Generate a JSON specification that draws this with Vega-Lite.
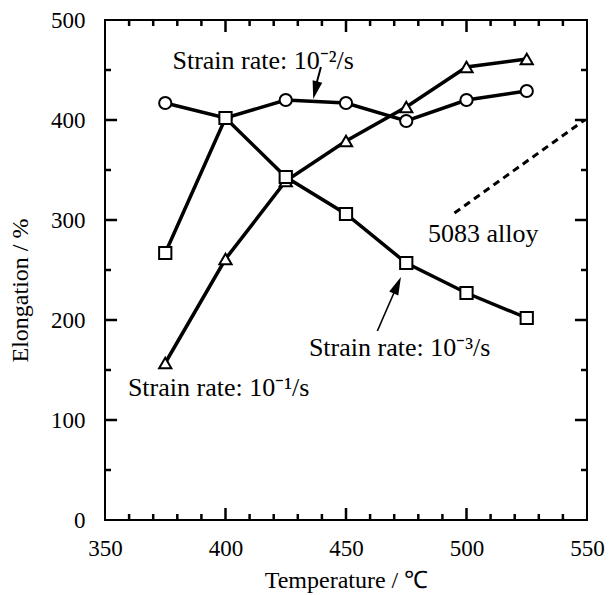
{
  "$schema": "https://vega.github.io/schema/vega-lite/v6.json",
  "width": 482,
  "height": 500,
  "autosize": "none",
  "padding": {"left": 105, "top": 20, "right": 24, "bottom": 75},
  "background": "white",
  "config": {
    "view": {"stroke": "black", "strokeWidth": 2},
    "font": "Liberation Serif",
    "axis": {
      "domain": false,
      "grid": false,
      "ticks": false,
      "labelFont": "Liberation Serif",
      "titleFont": "Liberation Serif",
      "labelColor": "black",
      "titleColor": "black",
      "titleFontWeight": "normal"
    }
  },
  "datasets": {
    "series": [
      {"rate": "1e-1", "T": 375, "E": 157},
      {"rate": "1e-1", "T": 400, "E": 261},
      {"rate": "1e-1", "T": 425, "E": 339},
      {"rate": "1e-1", "T": 450, "E": 379},
      {"rate": "1e-1", "T": 475, "E": 413},
      {"rate": "1e-1", "T": 500, "E": 453},
      {"rate": "1e-1", "T": 525, "E": 461},
      {"rate": "1e-2", "T": 375, "E": 417},
      {"rate": "1e-2", "T": 400, "E": 402},
      {"rate": "1e-2", "T": 425, "E": 420},
      {"rate": "1e-2", "T": 450, "E": 417},
      {"rate": "1e-2", "T": 475, "E": 399},
      {"rate": "1e-2", "T": 500, "E": 420},
      {"rate": "1e-2", "T": 525, "E": 429},
      {"rate": "1e-3", "T": 375, "E": 267},
      {"rate": "1e-3", "T": 400, "E": 402},
      {"rate": "1e-3", "T": 425, "E": 343},
      {"rate": "1e-3", "T": 450, "E": 306},
      {"rate": "1e-3", "T": 475, "E": 257},
      {"rate": "1e-3", "T": 500, "E": 227},
      {"rate": "1e-3", "T": 525, "E": 202}
    ],
    "notes": [
      {"label": "Strain rate: 10⁻²/s", "T": 378, "E": 451},
      {"label": "Strain rate: 10⁻³/s", "T": 434.6, "E": 164},
      {"label": "Strain rate: 10⁻¹/s", "T": 359.5, "E": 124},
      {"label": "5083 alloy", "T": 484, "E": 278}
    ],
    "alloy": [{"T": 495, "E": 307}, {"T": 549, "E": 400}],
    "arrow2": [{"T": 439.6, "E": 453}, {"T": 436.8, "E": 428}],
    "arrow3": [{"T": 463, "E": 189}, {"T": 471.5, "E": 236}],
    "head2": [{"T": 436.4, "E": 421}],
    "head3": [{"T": 472.8, "E": 243}],
    "xticks": [
      {"v": 360, "kind": "minor"}, {"v": 370, "kind": "minor"}, {"v": 380, "kind": "minor"}, {"v": 390, "kind": "minor"},
      {"v": 400, "kind": "major"},
      {"v": 410, "kind": "minor"}, {"v": 420, "kind": "minor"}, {"v": 430, "kind": "minor"}, {"v": 440, "kind": "minor"},
      {"v": 450, "kind": "major"},
      {"v": 460, "kind": "minor"}, {"v": 470, "kind": "minor"}, {"v": 480, "kind": "minor"}, {"v": 490, "kind": "minor"},
      {"v": 500, "kind": "major"},
      {"v": 510, "kind": "minor"}, {"v": 520, "kind": "minor"}, {"v": 530, "kind": "minor"}, {"v": 540, "kind": "minor"}
    ],
    "yticks": [
      {"v": 50, "kind": "minor"}, {"v": 100, "kind": "major"}, {"v": 150, "kind": "minor"}, {"v": 200, "kind": "major"},
      {"v": 250, "kind": "minor"}, {"v": 300, "kind": "major"}, {"v": 350, "kind": "minor"}, {"v": 400, "kind": "major"},
      {"v": 450, "kind": "minor"}
    ]
  },
  "layer": [
    {
      "data": {"name": "series"},
      "mark": {"type": "line", "color": "black", "strokeWidth": 3.5},
      "encoding": {
        "x": {
          "field": "T", "type": "quantitative",
          "scale": {"domain": [350, 550], "nice": false, "zero": false},
          "axis": {
            "orient": "bottom", "values": [350, 400, 450, 500, 550], "ticks": false,
            "labelPadding": 17, "labelFontSize": 23, "labelFont": "Liberation Serif", "labelFlush": false,
            "title": "Temperature / ℃", "titleFont": "Liberation Serif", "titleFontSize": 24, "titlePadding": 8
          }
        },
        "y": {
          "field": "E", "type": "quantitative",
          "scale": {"domain": [0, 500], "nice": false, "zero": true},
          "axis": {
            "orient": "left", "values": [0, 100, 200, 300, 400, 500], "ticks": false,
            "labelPadding": 20, "labelFontSize": 23, "labelFont": "Liberation Serif",
            "title": "Elongation / %", "titleFont": "Liberation Serif", "titleFontSize": 24, "titlePadding": 18, "titleY": 270
          }
        },
        "detail": {"field": "rate"}
      }
    },
    {
      "data": {"name": "series"},
      "mark": {"type": "point", "filled": true, "fill": "white", "stroke": "black", "strokeWidth": 2, "opacity": 1, "size": 150},
      "encoding": {
        "x": {"field": "T", "type": "quantitative"},
        "y": {"field": "E", "type": "quantitative"},
        "shape": {
          "field": "rate", "type": "nominal",
          "scale": {"domain": ["1e-1", "1e-2", "1e-3"], "range": ["triangle-up", "circle", "square"]},
          "legend": null
        }
      }
    },
    {
      "data": {"name": "alloy"},
      "mark": {"type": "line", "color": "black", "strokeWidth": 3, "strokeDash": [7, 5]},
      "encoding": {
        "x": {"field": "T", "type": "quantitative"},
        "y": {"field": "E", "type": "quantitative"}
      }
    },
    {
      "data": {"name": "notes"},
      "mark": {"type": "text", "align": "left", "baseline": "alphabetic", "fontSize": 26, "font": "Liberation Serif", "color": "black"},
      "encoding": {
        "x": {"field": "T", "type": "quantitative"},
        "y": {"field": "E", "type": "quantitative"},
        "text": {"field": "label"}
      }
    },
    {
      "data": {"name": "arrow2"},
      "mark": {"type": "line", "color": "black", "strokeWidth": 2},
      "encoding": {
        "x": {"field": "T", "type": "quantitative"},
        "y": {"field": "E", "type": "quantitative"}
      }
    },
    {
      "data": {"name": "arrow3"},
      "mark": {"type": "line", "color": "black", "strokeWidth": 1.6},
      "encoding": {
        "x": {"field": "T", "type": "quantitative"},
        "y": {"field": "E", "type": "quantitative"}
      }
    },
    {
      "data": {"name": "head2"},
      "mark": {"type": "point", "shape": "M0,0L-0.55,2L0.55,2Z", "angle": 193.5, "filled": true, "fill": "black", "strokeWidth": 0, "opacity": 1, "size": 324},
      "encoding": {
        "x": {"field": "T", "type": "quantitative"},
        "y": {"field": "E", "type": "quantitative"}
      }
    },
    {
      "data": {"name": "head3"},
      "mark": {"type": "point", "shape": "M0,0L-0.55,2L0.55,2Z", "angle": 23.6, "filled": true, "fill": "black", "strokeWidth": 0, "opacity": 1, "size": 324},
      "encoding": {
        "x": {"field": "T", "type": "quantitative"},
        "y": {"field": "E", "type": "quantitative"}
      }
    },
    {
      "data": {"name": "xticks"},
      "transform": [{"filter": "datum.kind === 'major'"}],
      "mark": {"type": "rule", "color": "black", "strokeWidth": 2.5},
      "encoding": {"x": {"field": "v", "type": "quantitative"}, "y": {"datum": 0}, "y2": {"datum": 12}}
    },
    {
      "data": {"name": "xticks"},
      "transform": [{"filter": "datum.kind === 'major'"}],
      "mark": {"type": "rule", "color": "black", "strokeWidth": 2.5},
      "encoding": {"x": {"field": "v", "type": "quantitative"}, "y": {"datum": 500}, "y2": {"datum": 488}}
    },
    {
      "data": {"name": "xticks"},
      "transform": [{"filter": "datum.kind === 'minor'"}],
      "mark": {"type": "rule", "color": "black", "strokeWidth": 2.5},
      "encoding": {"x": {"field": "v", "type": "quantitative"}, "y": {"datum": 0}, "y2": {"datum": 6}}
    },
    {
      "data": {"name": "xticks"},
      "transform": [{"filter": "datum.kind === 'minor'"}],
      "mark": {"type": "rule", "color": "black", "strokeWidth": 2.5},
      "encoding": {"x": {"field": "v", "type": "quantitative"}, "y": {"datum": 500}, "y2": {"datum": 494}}
    },
    {
      "data": {"name": "yticks"},
      "transform": [{"filter": "datum.kind === 'major'"}],
      "mark": {"type": "rule", "color": "black", "strokeWidth": 2.5},
      "encoding": {"y": {"field": "v", "type": "quantitative"}, "x": {"datum": 350}, "x2": {"datum": 355}}
    },
    {
      "data": {"name": "yticks"},
      "transform": [{"filter": "datum.kind === 'major'"}],
      "mark": {"type": "rule", "color": "black", "strokeWidth": 2.5},
      "encoding": {"y": {"field": "v", "type": "quantitative"}, "x": {"datum": 550}, "x2": {"datum": 545}}
    },
    {
      "data": {"name": "yticks"},
      "transform": [{"filter": "datum.kind === 'minor'"}],
      "mark": {"type": "rule", "color": "black", "strokeWidth": 2.5},
      "encoding": {"y": {"field": "v", "type": "quantitative"}, "x": {"datum": 350}, "x2": {"datum": 352.5}}
    },
    {
      "data": {"name": "yticks"},
      "transform": [{"filter": "datum.kind === 'minor'"}],
      "mark": {"type": "rule", "color": "black", "strokeWidth": 2.5},
      "encoding": {"y": {"field": "v", "type": "quantitative"}, "x": {"datum": 550}, "x2": {"datum": 547.5}}
    }
  ]
}
